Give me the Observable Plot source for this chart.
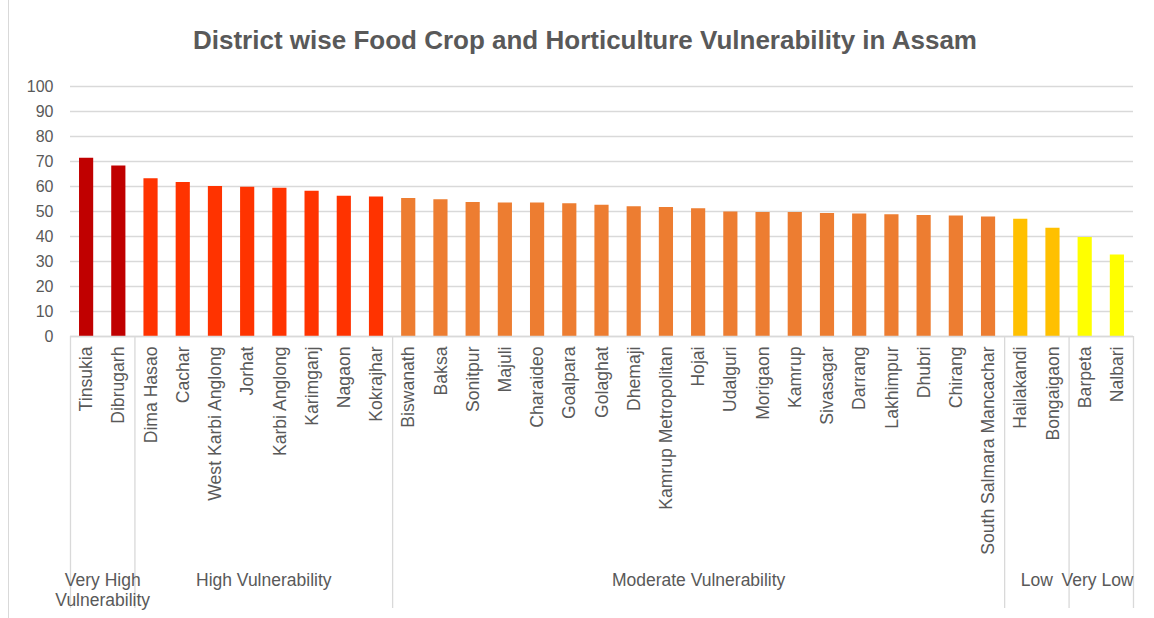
<!DOCTYPE html>
<html>
<head>
<meta charset="utf-8">
<script src="https://cdn.jsdelivr.net/npm/d3@7"></script>
<script src="https://cdn.jsdelivr.net/npm/@observablehq/plot@0.6"></script>
<style>
  body { margin: 0; background: #fff; }
  #chart { position: relative; width: 1154px; height: 618px; font-family: "Liberation Sans", Arial, sans-serif; overflow: hidden; }
  #chart svg { position: absolute; left: 0; top: 0; }
  #frame { position: absolute; left: 8px; top: 0; width: 0; height: 618px; border-left: 1px solid #d9d9d9; }
  #title { position: absolute; left: 0; width: 1170px; top: 25px; text-align: center; font-weight: bold; font-size: 26px; color: #595959; }
</style>
</head>
<body>
<div id="chart">
  <div id="frame"></div>
  <div id="title">District wise Food Crop and Horticulture Vulnerability in Assam</div>
</div>
<script>
// ---- data ----
const districts = [
  "Tinsukia", "Dibrugarh",
  "Dima Hasao", "Cachar", "West Karbi Anglong", "Jorhat", "Karbi Anglong", "Karimganj", "Nagaon", "Kokrajhar",
  "Biswanath", "Baksa", "Sonitpur", "Majuli", "Charaideo", "Goalpara", "Golaghat", "Dhemaji", "Kamrup Metropolitan",
  "Hojai", "Udalguri", "Morigaon", "Kamrup", "Sivasagar", "Darrang", "Lakhimpur", "Dhubri", "Chirang", "South Salmara Mancachar",
  "Hailakandi", "Bongaigaon",
  "Barpeta", "Nalbari"
];
const values = [
  71.3, 68.2,
  63.1, 61.6, 60.0, 59.7, 59.3, 58.1, 56.1, 55.8,
  55.2, 54.7, 53.6, 53.4, 53.4, 53.1, 52.5, 51.9, 51.6,
  51.1, 49.8, 49.6, 49.6, 49.2, 49.0, 48.7, 48.4, 48.2, 47.8,
  46.9, 43.3,
  39.6, 32.6
];
const groups = ["Very High Vulnerability", "High Vulnerability", "Moderate Vulnerability", "Low", "Very Low"];
const groupLabels = ["Very High\nVulnerability", "High Vulnerability", "Moderate Vulnerability", "Low", "Very Low"];
const groupSizes = [2, 8, 19, 2, 2];
const groupColors = ["#C00000", "#FF3300", "#ED7D31", "#FFC000", "#FFFF00"];
const yTicks = [0, 10, 20, 30, 40, 50, 60, 70, 80, 90, 100];

// ---- build tables ----
const groupData = [];
let start = 0;
groupSizes.forEach((n, g) => {
  groupData.push({group: groups[g], label: groupLabels[g], start, end: start + n, last: g === groupSizes.length - 1});
  start += n;
});
const data = districts.map((d, i) => ({
  i, district: d, value: values[i],
  group: groupData.find(g => i >= g.start && i < g.end).group
}));
const boundaries = [0, ...groupData.map(g => g.end)];

// ---- layout ----
const W = 1154, H = 618;
const mL = 70, mR = 21, mT = 86, mB = 282;
const sepBottom = 608;
const barPad = 0.28;
const grey = "#595959", lineGrey = "#d9d9d9";
const font = "'Liberation Sans', Arial, sans-serif";

const chart = Plot.plot({
  width: W, height: H,
  marginLeft: mL, marginRight: mR, marginTop: mT, marginBottom: mB,
  style: {fontFamily: font, background: "transparent", overflow: "visible"},
  x: {domain: [0, districts.length], axis: null},
  y: {domain: [0, 100], axis: null},
  color: {domain: groups, range: groupColors},
  marks: [
    Plot.gridY(yTicks, {stroke: lineGrey, strokeOpacity: 1, strokeWidth: 1.3}),
    Plot.axisY(yTicks, {tickSize: 0, tickPadding: 17, fontSize: 16, fill: grey, label: null}),
    Plot.rectY(data, {x1: d => d.i + barPad, x2: d => d.i + 1 - barPad, y: "value", fill: "group"}),
    Plot.ruleY([0], {stroke: lineGrey, strokeWidth: 1.3}),
    Plot.ruleX(boundaries, {x: d => d, stroke: lineGrey, strokeWidth: 1.3,
      insetTop: H - mT - mB, insetBottom: -(sepBottom - (H - mB))}),
    Plot.text(data, {x: d => d.i + 0.5, y: 0, text: "district", rotate: -90, textAnchor: "end",
      dy: 10, fontSize: 17.6, fill: grey}),
    Plot.text(groupData.filter(g => !g.last), {x: d => (d.start + d.end) / 2, y: 0, text: "label", lineAnchor: "top",
      lineHeight: 1.15, dy: 235, fontSize: 17.5, fill: grey}),
    Plot.text(groupData.filter(g => g.last), {x: "end", y: 0, text: "label", lineAnchor: "top", textAnchor: "end",
      lineHeight: 1.15, dy: 235, fontSize: 17.5, fill: grey})
  ]
});
document.getElementById("chart").prepend(chart);
</script>
</body>
</html>
